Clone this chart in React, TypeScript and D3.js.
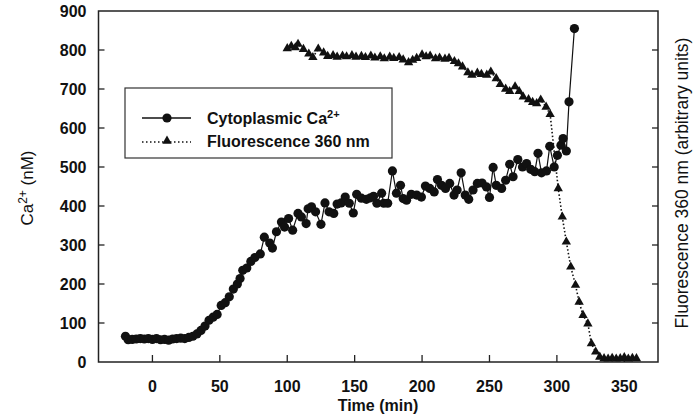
import React from "react";
import * as d3 from "d3";

// Cytoplasmic Ca2+ (nM) over time (min)
const caTime = [
  -20, -18, -15, -12, -9, -6, -3, 0, 3, 6, 9, 12, 15, 18, 21, 24, 27, 30, 33, 36,
  39, 42, 45, 48, 51, 54, 57, 60, 63, 65, 67, 70, 73, 76, 80, 83, 87, 89, 92, 95.7,
  98, 101, 104, 108, 110.5, 114, 115.5, 118, 121, 125, 128, 131, 134.5, 137, 140, 143,
  146, 149, 151.5, 155, 158.7, 161.7, 164, 166.5, 170, 171.6, 174.5, 178, 181, 184,
  186, 188.5, 192, 196, 199.5, 202.5, 205.7, 209, 211.4, 214.4, 217.4, 220.5, 223.7,
  226, 229, 232, 234.6, 237.8, 241, 244.5, 247.8, 250, 252.7, 255, 259, 262, 265,
  267.5, 271, 274.5, 277.5, 280.6, 283.6, 286, 288.6, 292.3, 294.7, 298, 300.4, 303,
  304.6, 307, 309, 313,
];
const caValue = [
  66, 57, 58, 59, 60, 59, 60, 58, 60, 57, 58, 56, 59, 60, 61, 60, 63, 66, 72, 81,
  92, 107, 115, 122, 145, 152, 167, 187, 200, 214, 235, 241, 258, 268, 277, 320, 305, 292, 334, 359,
  346, 368, 338, 381, 372, 355, 393, 398, 385, 353, 408, 385, 381, 405, 408, 423,
  407, 382, 430, 420, 417, 421, 425, 407, 433, 407, 407, 490, 433, 453,
  419, 415, 430, 428, 423, 451, 445, 436, 468, 453, 445, 458, 428,
  441, 485, 428, 417, 441, 458, 459, 449, 422, 499, 453, 445, 466, 507,
  475, 519, 500, 509, 494, 488, 535, 485, 490, 553, 500, 530, 556,
  573, 541, 667, 855,
];

// Fluorescence at 360 nm (arbitrary units) over time (min)
const flTime = [
  100, 103, 106, 108, 112, 116, 119, 123, 127, 130, 134, 137, 141, 144, 148, 151,
  155, 158, 162, 165, 169, 172, 176, 179, 183, 186, 190, 193, 196, 200, 203, 206,
  210, 213, 217, 220, 224, 227, 230, 234, 237, 241, 244, 248, 251, 255, 258, 262,
  265, 269, 272, 275, 279, 282, 285, 288, 292, 295, 301, 304, 307, 310.3, 313.8,
  316.5, 319.4, 323, 325.6, 328.8, 331.8, 335, 338, 341, 344, 347, 350, 353, 356, 359,
];
const flValue = [
  804, 810, 806, 815, 802, 790, 781, 803, 793, 784, 786, 782, 785, 783, 786, 782,
  784, 781, 785, 780, 783, 778, 782, 779, 781, 775, 768, 774, 779, 788, 783, 785,
  778, 780, 777, 779, 771, 765, 757, 742, 736, 741, 738, 736, 744, 727, 712, 700,
  694, 706, 694, 680, 673, 666, 663, 672, 654, 635, 445, 372, 308, 244, 197,
  154, 120, 98, 47, 26, 13, 9, 8, 10, 8, 9, 12, 8, 10, 9,
];

const xTicks = [0, 50, 100, 150, 200, 250, 300, 350];
const yTicks = [0, 100, 200, 300, 400, 500, 600, 700, 800, 900];

const W = 693;
const H = 416;
const FONT = "'Liberation Sans', Arial, Helvetica, sans-serif";

export default function App() {
  const x = d3.scaleLinear().domain([-40, 375]).range([98.5, 658]);
  const y = d3.scaleLinear().domain([0, 900]).range([362, 11]);
  const [x0, x1] = x.range();
  const [y0, y1] = y.range();

  const caPts: [number, number][] = caTime.map((t, i) => [x(t), y(caValue[i])]);
  const flPts: [number, number][] = flTime.map((t, i) => [x(t), y(flValue[i])]);
  const line = d3.line<[number, number]>();
  const tri = d3.symbol(d3.symbolTriangle, 38)() as string;
  const dotR = 4.6;

  const legX = 125;
  const legY = 88;

  return (
    <svg
      width={W}
      height={H}
      viewBox={`0 0 ${W} ${H}`}
      style={{ position: "absolute", left: 0, top: 0, background: "#fff" }}
      fontFamily={FONT}
    >
      <rect x={0} y={0} width={W} height={H} fill="#fff" />

      {/* frame */}
      <rect x={x0} y={y1} width={x1 - x0} height={y0 - y1} fill="none" stroke="#222" strokeWidth={1.5} />

      {/* left axis ticks and labels */}
      {yTicks.map((v) => (
        <g key={`yl${v}`}>
          {v > 0 && v < 900 && (
            <line x1={x0} x2={x0 + 6} y1={y(v)} y2={y(v)} stroke="#222" strokeWidth={1.3} />
          )}
          <text x={x0 - 12} y={y(v)} dy="0.36em" textAnchor="end" fontSize={16} fontWeight="bold" fill="#111">
            {v}
          </text>
        </g>
      ))}
      {/* right axis ticks */}
      {yTicks.filter((v) => v > 0 && v < 900).map((v) => (
        <line key={`yr${v}`} x1={x1} x2={x1 - 6} y1={y(v)} y2={y(v)} stroke="#222" strokeWidth={1.3} />
      ))}
      {/* bottom axis ticks and labels */}
      {xTicks.map((t) => (
        <g key={`x${t}`}>
          <line x1={x(t)} x2={x(t)} y1={y0} y2={y0 - 7} stroke="#222" strokeWidth={1.3} />
          <text x={x(t)} y={392} textAnchor="middle" fontSize={16} fontWeight="bold" fill="#111">
            {t}
          </text>
        </g>
      ))}

      {/* axis titles */}
      <text x={378} y={411} textAnchor="middle" fontSize={16} fontWeight="bold" fill="#111">
        Time (min)
      </text>
      <text transform="translate(33,188) rotate(-90)" textAnchor="middle" fontSize={17} fill="#111">
        Ca<tspan fontSize={12} dy={-6}>2+</tspan>
        <tspan dy={6}> (nM)</tspan>
      </text>
      <text transform="translate(688,183) rotate(-90)" textAnchor="middle" fontSize={17.5} fill="#111">
        Fluorescence 360 nm (arbitrary units)
      </text>

      {/* fluorescence series */}
      <path d={line(flPts) || ""} fill="none" stroke="#111" strokeWidth={1.6} strokeDasharray="1.5 2.2" />
      {flPts.map(([px, py], i) => (
        <path key={`f${i}`} d={tri} transform={`translate(${px},${py})`} fill="#111" />
      ))}

      {/* calcium series */}
      <path d={line(caPts) || ""} fill="none" stroke="#111" strokeWidth={1.2} />
      {caPts.map(([px, py], i) => (
        <circle key={`c${i}`} cx={px} cy={py} r={dotR} fill="#111" />
      ))}

      {/* legend */}
      <rect x={legX} y={legY} width={267} height={70} fill="#fff" stroke="#333" strokeWidth={1.2} />
      <line x1={142} x2={191} y1={118} y2={118} stroke="#111" strokeWidth={1.4} />
      <circle cx={167} cy={118} r={dotR} fill="#111" />
      <text x={207} y={124} fontSize={16} fontWeight="bold" fill="#111">
        Cytoplasmic Ca<tspan fontSize={11} dy={-6}>2+</tspan>
      </text>
      <line x1={142} x2={191} y1={142} y2={142} stroke="#111" strokeWidth={1.6} strokeDasharray="1.5 2.5" />
      <path d={tri} transform="translate(167,141)" fill="#111" />
      <text x={207} y={147} fontSize={16} fontWeight="bold" fill="#111">
        Fluorescence 360 nm
      </text>
    </svg>
  );
}
